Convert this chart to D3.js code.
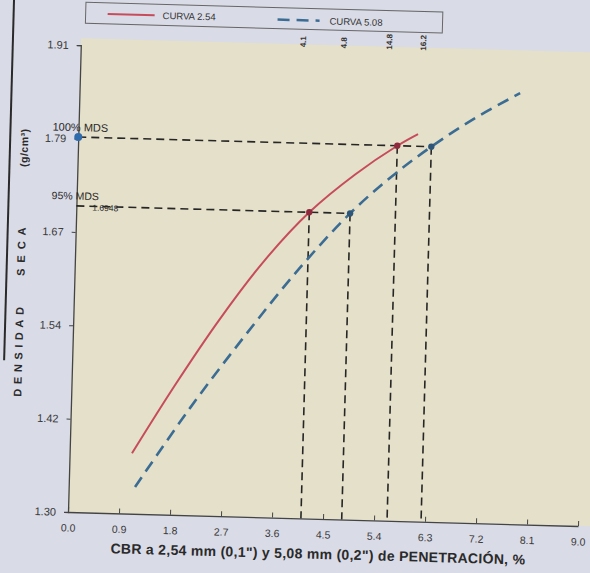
<!DOCTYPE html>
<html>
<head>
<meta charset="utf-8">
<script src="https://cdn.jsdelivr.net/npm/d3@7"></script>
<style>
  html, body { margin: 0; padding: 0; background: #d9dbe6; }
  #chart { width: 590px; height: 573px; }
  text { font-family: "Liberation Sans", Arial, sans-serif; }
</style>
</head>
<body>
<div id="chart"></div>
<script>
// CURVA 2.54 (red, solid)
const curva254X = [1.10, 1.83, 2.59, 3.35, 4.11, 4.90, 5.63, 5.99];
const curva254Y = [1.379, 1.470, 1.558, 1.636, 1.700, 1.751, 1.790, 1.806];
// CURVA 5.08 (blue, dashed)
const curva508X = [1.17, 2.10, 3.04, 3.97, 4.83, 5.52, 6.23, 6.99, 7.77];
const curva508Y = [1.335, 1.440, 1.537, 1.627, 1.700, 1.748, 1.790, 1.829, 1.863];

// reading points at 95% and 100% MDS
const markX = [4.11, 4.83, 5.63, 6.23];
const markY = [1.70, 1.70, 1.79, 1.79];
const markSeries = ["2.54", "5.08", "2.54", "5.08"];
const markLabels = ["4.1", "4.8", "14.8", "16.2"];

const mds100 = 1.79;
const mds95 = 1.70;
const mds95Label = "1.6948";

const xTicks = [0, 0.9, 1.8, 2.7, 3.6, 4.5, 5.4, 6.3, 7.2, 8.1, 9.0];
const yTicks = [1.30, 1.422, 1.544, 1.666, 1.788, 1.91];

function draw() {
  d3.select("#chart").selectAll("*").remove();

  const W = 590, H = 573;
  const ox = 68, oy = 512;   // origin of the axes
  const svg = d3.select("#chart").append("svg")
    .attr("width", W).attr("height", H);

  // the photo is slightly rotated
  const g = svg.append("g")
    .attr("transform", `rotate(1.57, ${ox}, ${oy})`);

  const x = d3.scaleLinear().domain([0, 9]).range([ox, 578.2]);
  const y = d3.scaleLinear().domain([1.30, 1.91]).range([oy, 45]);

  const colRed = "#c64c5c";
  const colBlue = "#3b6c93";

  // plot area background
  g.append("rect")
    .attr("x", ox).attr("y", 38)
    .attr("width", 540).attr("height", oy - 38)
    .attr("fill", "#e5e0c9");

  // frame line on the far left
  g.append("line")
    .attr("x1", 0).attr("x2", 0).attr("y1", -20).attr("y2", 362)
    .attr("stroke", "#2a2a2a").attr("stroke-width", 2);

  // legend
  const lg = g.append("g");
  lg.append("rect")
    .attr("x", 72).attr("y", 2).attr("width", 357).attr("height", 21)
    .attr("fill", "none").attr("stroke", "#666").attr("stroke-width", 1);
  lg.append("line").attr("x1", 94).attr("x2", 141).attr("y1", 13).attr("y2", 13)
    .attr("stroke", colRed).attr("stroke-width", 2);
  lg.append("text").attr("x", 149).attr("y", 16.5).attr("font-size", 9.5)
    .attr("fill", "#333").text("CURVA 2.54");
  lg.append("line").attr("x1", 264).attr("x2", 306).attr("y1", 14).attr("y2", 14)
    .attr("stroke", colBlue).attr("stroke-width", 2.5).attr("stroke-dasharray", "12,7");
  lg.append("text").attr("x", 316).attr("y", 17.5).attr("font-size", 9.5)
    .attr("fill", "#333").text("CURVA 5.08");

  // axes
  const yAxis = d3.axisLeft(y).tickValues(yTicks).tickFormat(d3.format(".2f"))
    .tickSize(4).tickPadding(8);
  const yg = g.append("g").attr("transform", `translate(${ox},0)`).call(yAxis);
  yg.select(".domain").attr("stroke", "#444").attr("stroke-width", 1.3);
  yg.selectAll(".tick line").attr("stroke", "#444");
  yg.selectAll(".tick text").attr("font-size", 11).attr("fill", "#3a3a3a")
    .attr("font-family", "Liberation Sans, Arial, sans-serif");

  const xAxis = d3.axisBottom(x).tickValues(xTicks).tickFormat(d3.format(".1f"))
    .tickSizeInner(-5).tickSizeOuter(0).tickPadding(12);
  const xg = g.append("g").attr("transform", `translate(0,${oy})`).call(xAxis);
  xg.select(".domain").attr("stroke", "#444").attr("stroke-width", 1.3);
  xg.selectAll(".tick line").attr("stroke", "#444");
  xg.selectAll(".tick text").attr("font-size", 10.5).attr("fill", "#3a3a3a")
    .attr("font-family", "Liberation Sans, Arial, sans-serif");

  // axis titles
  g.append("text")
    .attr("x", 319).attr("y", 552)
    .attr("text-anchor", "middle")
    .attr("font-size", 14).attr("font-weight", "bold").attr("fill", "#2a2a2a")
    .attr("letter-spacing", 0.3)
    .text("CBR a 2,54 mm (0,1\") y 5,08 mm (0,2\") de PENETRACIÓN, %");

  const yt = [
    { t: "DENSIDAD", c: 351, ls: 4.6, fs: 11 },
    { t: "SECA", c: 250, ls: 6, fs: 11 },
    { t: "(g/cm³)", c: 149, ls: 0.5, fs: 10.5 }
  ];
  yt.forEach(d => {
    g.append("text")
      .attr("transform", `translate(18,${d.c}) rotate(-90)`)
      .attr("text-anchor", "middle")
      .attr("font-size", d.fs).attr("font-weight", "bold")
      .attr("letter-spacing", d.ls).attr("fill", "#2a2a2a")
      .text(d.t);
  });

  // guide lines at 100% and 95% MDS
  const guide = g.append("g")
    .attr("stroke", "#262626").attr("stroke-width", 1.6)
    .attr("stroke-dasharray", "8,5").attr("fill", "none");
  guide.append("line")
    .attr("x1", ox).attr("x2", x(markX[3]))
    .attr("y1", y(mds100)).attr("y2", y(mds100));
  guide.append("line")
    .attr("x1", ox).attr("x2", x(markX[1]))
    .attr("y1", y(mds95)).attr("y2", y(mds95));
  guide.selectAll("line.v")
    .data(markX)
    .join("line").attr("class", "v")
    .attr("x1", d => x(d)).attr("x2", d => x(d))
    .attr("y1", (d, i) => y(markY[i])).attr("y2", oy);

  // curves
  const line = d3.line()
    .x(d => x(d[0])).y(d => y(d[1]))
    .curve(d3.curveCatmullRom);

  g.append("path")
    .datum(d3.zip(curva254X, curva254Y))
    .attr("d", line)
    .attr("fill", "none").attr("stroke", colRed).attr("stroke-width", 2);

  g.append("path")
    .datum(d3.zip(curva508X, curva508Y))
    .attr("d", line)
    .attr("fill", "none").attr("stroke", colBlue).attr("stroke-width", 2.6)
    .attr("stroke-dasharray", "12,7");

  // markers
  g.selectAll("circle.mk")
    .data(markX)
    .join("circle").attr("class", "mk")
    .attr("cx", d => x(d)).attr("cy", (d, i) => y(markY[i]))
    .attr("r", 3.2)
    .attr("fill", (d, i) => markSeries[i] === "2.54" ? "#8e2a3e" : "#2d5678");

  // labels above the plot
  g.selectAll("text.mkl")
    .data(markLabels)
    .join("text").attr("class", "mkl")
    .attr("transform", (d, i) => `translate(${x(markX[i]) - 8},41) rotate(-90)`)
    .attr("font-size", 8).attr("font-weight", "bold").attr("fill", "#333")
    .text(d => d);

  // MDS annotations
  g.append("circle")
    .attr("cx", ox).attr("cy", y(mds100)).attr("r", 4)
    .attr("fill", "#2f6cae");
  g.append("text").attr("x", 42).attr("y", 131)
    .attr("font-size", 11).attr("fill", "#2a2a2a").text("100% MDS");
  g.append("text").attr("x", 43).attr("y", 199.5)
    .attr("font-size", 10.5).attr("fill", "#2a2a2a").text("95% MDS");
  g.append("text").attr("x", 84).attr("y", 210)
    .attr("font-size", 8.5).attr("fill", "#2a2a2a").text(mds95Label);
}

draw();
</script>
</body>
</html>
